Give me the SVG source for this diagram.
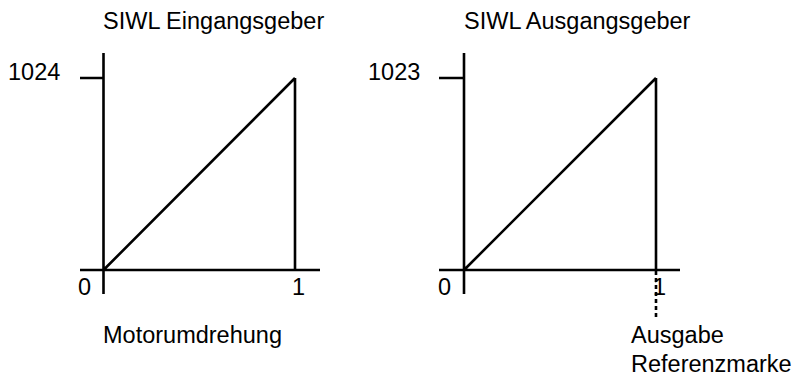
<svg xmlns="http://www.w3.org/2000/svg" width="798" height="379" viewBox="0 0 798 379">
<style>
.ln{stroke:#000;stroke-width:2.6;fill:none}
.t{font-family:"Liberation Sans",Arial,sans-serif;font-size:23.5px;fill:#000}
.dash{stroke:#000;stroke-width:2.6;stroke-dasharray:4 3;fill:none}
</style>
<rect width="798" height="379" fill="#fff"/>
<g id="chart-left">
<text class="t" x="103" y="29">SIWL Eingangsgeber</text>
<path class="ln" d="M103.5 53V294M80 270H320M80 78H103.5M295 78V270M103.5 270L295 78"/>
<text class="t" x="8" y="80">1024</text>
<text class="t" x="78" y="295">0</text>
<text class="t" x="292" y="295">1</text>
<text class="t" x="103" y="343">Motorumdrehung</text>
</g>
<g id="chart-right">
<text class="t" x="464" y="29">SIWL Ausgangsgeber</text>
<path class="ln" d="M464 53V294M439 270H680M439 78H464M656 78V270M464 270L656 78"/>
<text class="t" x="368" y="80">1023</text>
<text class="t" x="438" y="295">0</text>
<text class="t" x="653" y="295">1</text>
</g>
<g id="connectors">
<path class="dash" d="M656 271V318"/>
</g>
<g id="ref-label">
<text class="t" x="631" y="343">Ausgabe</text>
<text class="t" x="631" y="372">Referenzmarke</text>
</g>
</svg>
